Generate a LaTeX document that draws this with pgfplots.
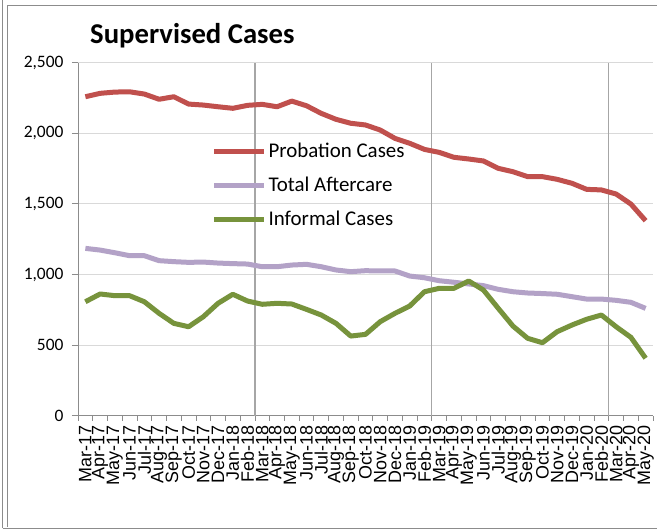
\documentclass[border=0pt]{standalone}
\usepackage{pgfplots}
\pgfplotsset{compat=1.18}
\usepackage{fontspec}
\setmainfont{Carlito}
\newfontfamily\arialf{Liberation Sans}
\definecolor{probred}{HTML}{C0504D}
\definecolor{aftpurple}{HTML}{B3A2C7}
\definecolor{infgreen}{HTML}{77933C}
\definecolor{gridgray}{HTML}{D9D9D9}
\definecolor{vgray}{HTML}{A6A6A6}
\definecolor{axgray}{HTML}{8C8C8C}
\pgfplotstableread{
i prob aft inf
0 2259 1185 807
1 2283 1173 862
2 2292 1154 850
3 2294 1133 850
4 2278 1133 807
5 2241 1098 725
6 2259 1091 654
7 2207 1086 630
8 2200 1088 701
9 2188 1081 796
10 2177 1077 860
11 2198 1074 812
12 2205 1055 789
13 2188 1055 796
14 2228 1067 791
15 2195 1072 753
16 2141 1055 713
17 2099 1032 654
18 2071 1020 564
19 2059 1027 576
20 2023 1025 666
21 1964 1025 725
22 1929 989 777
23 1886 977 878
24 1865 956 902
25 1830 945 902
26 1818 933 954
27 1804 921 890
28 1752 895 761
29 1728 878 635
30 1693 869 548
31 1693 865 517
32 1674 860 595
33 1646 843 642
34 1603 826 683
35 1599 826 713
36 1570 817 630
37 1499 803 555
38 1381 760 407
}\datatable
\begin{document}
\begin{tikzpicture}
\useasboundingbox (0,0) rectangle (657bp,530bp);
\fill[white] (0,0) rectangle (657bp,530bp);
\draw[axgray, line width=0.8bp] (2.7bp,530bp) -- (2.7bp,2bp);
\draw[axgray, line width=0.8bp] (2.7bp,2bp) -- (657bp,2bp);
\draw[axgray, line width=0.8bp] (657bp,525bp) -- (7bp,525bp) -- (7bp,3bp);
\begin{axis}[
  at={(78bp,114.3bp)}, anchor=south west,
  scale only axis, width=575bp, height=353bp,
  xmin=-0.5, xmax=38.5, ymin=0, ymax=2500,
  axis x line*=bottom, axis y line*=left,
  axis line style={axgray, line width=0.8bp, -},
  xtick={0,...,38},
  xticklabels={Mar-17,Apr-17,May-17,Jun-17,Jul-17,Aug-17,Sep-17,Oct-17,Nov-17,Dec-17,Jan-18,Feb-18,Mar-18,Apr-18,May-18,Jun-18,Jul-18,Aug-18,Sep-18,Oct-18,Nov-18,Dec-18,Jan-19,Feb-19,Mar-19,Apr-19,May-19,Jun-19,Jul-19,Aug-19,Sep-19,Oct-19,Nov-19,Dec-19,Jan-20,Feb-20,Mar-20,Apr-20,May-20},
  x tick label style={rotate=90, anchor=east, font=\arialf\fontsize{18}{18}\selectfont, inner sep=0bp, xshift=-4bp},
  major x tick style={draw=none},
  minor xtick={-0.5,0.5,...,38.5},
  minor x tick style={axgray, line width=0.8bp},
  minor tick length=5bp,
  extra x ticks={11.5,23.5,35.5},
  extra x tick labels={},
  extra x tick style={grid=major, major grid style={vgray, line width=1.2bp}, major tick length=0pt},
  ytick={0,500,...,2500},
  ymajorgrids, major grid style={gridgray, line width=1bp},
  y tick style={axgray, line width=0.8bp},
  major tick length=6bp,
  tick align=outside,
  y tick label style={font=\fontsize{17.5}{18}\selectfont, xshift=-5bp},
  /pgf/number format/.cd, 1000 sep={,}, assume math mode=true,
  /pgfplots/.cd,
  legend style={at={(axis description cs:0.232,0.778)}, anchor=north west, draw=none, fill=none,
    font=\fontsize{21}{22}\selectfont, row sep=14bp, inner sep=0pt},
  legend cell align=left,
  legend image code/.code={\draw[#1] (0bp,0bp) -- (50bp,0bp);},
]
\addplot[probred, line width=5bp, line join=round] table[x=i, y=prob] {\datatable};
\addlegendentry{Probation Cases}
\addplot[aftpurple, line width=5bp, line join=round] table[x=i, y=aft] {\datatable};
\addlegendentry{Total Aftercare}
\addplot[infgreen, line width=5bp, line join=round] table[x=i, y=inf] {\datatable};
\addlegendentry{Informal Cases}
\end{axis}
\node[anchor=base west, font=\bfseries\fontsize{28.8}{30}\selectfont, inner sep=0pt] at (90bp,486.7bp) {Supervised Cases};
\end{tikzpicture}
\end{document}
